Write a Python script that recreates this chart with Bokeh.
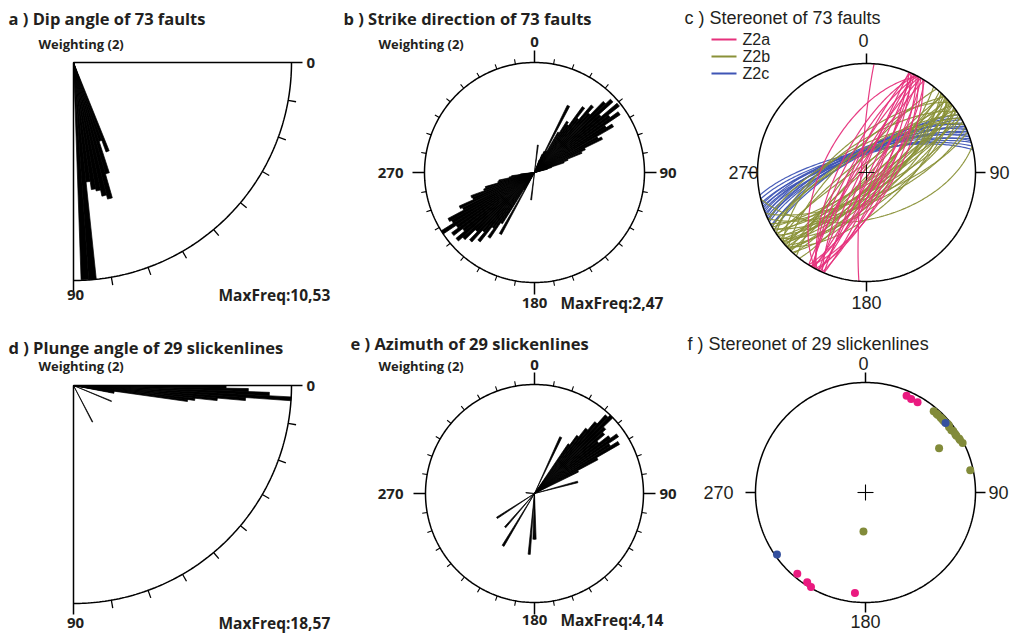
import numpy as np
from bokeh.plotting import figure
from bokeh.core.properties import value
from bokeh.embed import file_html
from bokeh.resources import INLINE

# ---------------- data ----------------
# a) dip angle of faults (2-degree bins: lower edges, frequency %)
dip_bins = [68, 70, 72, 74, 76, 78, 80, 82, 84, 86]
dip_freq = [4.6, 4.0, 5.6, 6.8, 6.6, 6.3, 6.2, 5.8, 10.53, 10.5]
dip_max = 10.53

# d) plunge angle of slickenlines (1-degree bins)
plunge_bins = [0, 1, 2, 3, 4, 5, 6, 7, 8, 9, 10, 22, 62]
plunge_freq = [13.0, 14.9, 16.7, 18.57, 14.7, 12.3, 10.4, 9.8, 3.5, 3.5, 3.5, 3.5, 3.5]
plunge_max = 18.57

# b) strike direction of faults (2-degree bins)
strike_bins = [6, 20, 22, 24, 26, 28, 30, 32, 34, 36, 38, 40, 42, 44, 46, 48, 50, 52,
               54, 56, 58, 60, 62, 64, 66, 68, 70, 72, 74,
               186, 208, 210, 212, 214, 216, 218, 220, 222, 224, 226, 228, 230, 232,
               234, 236, 238, 240, 242, 244, 246, 248, 250, 252, 254, 256, 258, 260, 262]
strike_freq = [0.62, 0.30, 0.44, 0.52, 1.68, 0.55, 1.05, 1.36, 1.30, 1.83, 1.55, 1.98, 1.80,
               2.22, 2.37, 1.95, 2.42, 2.10, 2.32, 1.90, 2.05, 1.62, 1.70, 1.25, 1.15, 0.80,
               0.70, 0.40, 0.30,
               0.62, 1.58, 0.45, 1.36, 1.78, 1.55, 1.98, 1.75, 2.10, 1.85, 2.17, 2.30, 2.05,
               2.30, 2.12, 2.47, 2.15, 2.20, 1.80, 1.85, 1.50, 1.52, 1.20, 1.15, 0.85, 0.82,
               0.58, 0.52, 0.32]
strike_max = 2.47

# e) azimuth of slickenlines (2-degree bins)
azimuth_bins = [24, 34, 36, 38, 40, 42, 44, 46, 48, 50, 52, 54, 56, 58, 60, 62,
                74, 178, 180, 184, 210, 220, 236, 274]
azimuth_freq = [2.36, 2.28, 2.73, 3.15, 3.56, 4.02, 4.14, 3.64, 3.48, 3.10, 3.56, 3.85,
                3.40, 3.73, 2.73, 1.86, 1.70, 1.74, 1.74, 2.32, 2.32, 1.70, 1.70, 0.33]
azimuth_max = 4.14

# c) fault planes (strike by right-hand rule, dip) per zone
z2a_strike = [24, 26, 28, 30, 25, 27, 29, 31, 23, 32, 204, 206, 208, 210, 203, 207, 209, 208, 184, 212]
z2a_dip = [78, 84, 72, 80, 88, 75, 86, 70, 82, 77, 80, 86, 74, 82, 88, 70, 78, 58, 86, 84]
z2b_strike = [38, 42, 45, 47, 50, 52, 55, 48, 44, 58, 60, 53, 56, 62, 46, 50, 54, 59, 49, 65,
              51, 47, 68, 43, 76, 220, 226, 232, 236, 225, 240, 230, 235, 244, 228, 238]
z2b_dip = [80, 82, 78, 85, 75, 80, 72, 70, 88, 78, 82, 66, 84, 76, 74, 86, 79, 70, 81, 68,
           77, 63, 72, 72, 55, 80, 72, 80, 68, 86, 76, 65, 84, 70, 88, 74]
z2c_strike = [238, 240, 241, 243, 244, 245, 246, 247, 248, 249, 250, 251, 252, 253, 254, 256, 258]
z2c_dip = [76, 74, 77, 75, 73, 76, 75, 72, 76, 74, 75, 73, 77, 74, 76, 75, 74]

# f) slickenlines (trend, plunge) and zone
lin_trend = [23, 26, 30, 220, 213, 210, 186,
             40, 42, 43, 45, 46, 48, 50, 51, 52, 54, 55, 57, 58, 60, 61, 63, 59, 78, 183, 47,
             49, 235]
lin_plunge = [5, 6, 6, 4, 3, 1, 9,
              4, 4, 4, 4, 4, 4, 3, 3, 4, 4, 3, 3, 3, 2, 2, 1, 23, 3, 61, 4,
              4, 2]
lin_zone = ["Z2a"] * 7 + ["Z2b"] * 20 + ["Z2c"] * 2

zones = ["Z2a", "Z2b", "Z2c"]
zone_line_colors = {"Z2a": "#e6317c", "Z2b": "#8a9138", "Z2c": "#3f55b5"}
zone_dot_colors = {"Z2a": "#ea1a80", "Z2b": "#828b3a", "Z2c": "#34509e"}

INK = "#231f20"
HUM = "Open Sans"
SANS = "Liberation Sans"

# ---------------- canvas ----------------
p = figure(width=1026, height=635, x_range=(0, 1026), y_range=(635, 0),
           output_backend="svg", toolbar_location=None, min_border=0)
p.axis.visible = False
p.grid.visible = False
p.outline_line_color = None
p.background_fill_color = "white"
p.border_fill_color = "white"


def quarter_map(ox, oy):
    def f(ang, r):
        a = np.radians(np.asarray(ang, dtype=float))
        return ox + r * np.cos(a), oy + r * np.sin(a)
    return f


def compass_map(cx, cy):
    def f(az, r):
        a = np.radians(np.asarray(az, dtype=float))
        return cx + r * np.sin(a), cy - r * np.cos(a)
    return f


def draw_rose(bins, freqs, fmax, R, mapper, width):
    xs, ys = [], []
    for b, fr in zip(bins, freqs):
        r = R * fr / fmax
        angs = np.linspace(b, b + width, 5)
        px, py = mapper(angs, r)
        x0, y0 = mapper([b], 0.0)
        xs.append(np.concatenate([x0, px]).tolist())
        ys.append(np.concatenate([y0, py]).tolist())
    p.patches(xs, ys, fill_color="black", line_color="black", line_width=0.7)


def txt(x, y, s, font=HUM, size="13px", bold=True, align="left"):
    p.text(x=[x], y=[y], text=[s], text_font=value(font), text_font_size=size,
           text_font_style="bold" if bold else "normal", text_align=align,
           text_baseline="middle", text_color=INK)


def quarter_frame(ox, oy, R):
    m = quarter_map(ox, oy)
    arc = np.linspace(0, 90, 120)
    ax, ay = m(arc, R)
    p.line(ax, ay, line_color="black", line_width=1.5)
    p.segment(x0=[ox, ox], y0=[oy, oy], x1=[ox + R + 11, ox], y1=[oy, oy + R + 11],
              line_color="black", line_width=1.5)
    tk = np.arange(10, 90, 10)
    x0, y0 = m(tk, R)
    x1, y1 = m(tk, R + 8)
    p.segment(x0=x0, y0=y0, x1=x1, y1=y1, line_color="black", line_width=1.3)


def compass_frame(cx, cy, R, minor=True):
    m = compass_map(cx, cy)
    a = np.linspace(0, 360, 361)
    ax, ay = m(a, R)
    p.line(ax, ay, line_color="black", line_width=1.5)
    card = np.array([0, 90, 180, 270])
    x0, y0 = m(card, R)
    x1, y1 = m(card, R + (12 if minor else 10))
    p.segment(x0=x0, y0=y0, x1=x1, y1=y1, line_color="black", line_width=1.5)
    if minor:
        mt = np.array([t for t in range(10, 360, 10) if t % 90 != 0])
        x0, y0 = m(mt, R)
        x1, y1 = m(mt, R + 5)
        p.segment(x0=x0, y0=y0, x1=x1, y1=y1, line_color="black", line_width=1.1)


def great_circle(strike, dip, n=120):
    lam = np.linspace(0, np.pi, n)
    s = np.radians(strike)
    d = np.radians(dip)
    dd = s + np.pi / 2
    sv = np.array([np.sin(s), np.cos(s), 0.0])
    dv = np.array([np.cos(d) * np.sin(dd), np.cos(d) * np.cos(dd), np.sin(d)])
    v = np.outer(np.cos(lam), sv) + np.outer(np.sin(lam), dv)
    e, nn, z = v.T
    k = 1.0 / np.sqrt(1.0 + z)
    return e * k, nn * k


def line_point(trend, plunge):
    t = np.radians(np.asarray(trend, dtype=float))
    pl = np.radians(np.asarray(plunge, dtype=float))
    r = np.sqrt(1.0 - np.sin(pl))
    return r * np.sin(t), r * np.cos(t)


TITLE = "16.5px"
SMALL = "13px"
MAXF = "15.5px"
DEG = "15px"

# ---------------- a) dip angle ----------------
AX, AY, AR = 73, 62, 218
draw_rose(dip_bins, dip_freq, dip_max, AR, quarter_map(AX, AY), 2)
quarter_frame(AX, AY, AR)
txt(8, 18, "a ) Dip angle of 73 faults", size=TITLE)
txt(38, 43, "Weighting (2)", size=SMALL)
txt(AX + AR + 15, AY, "0", size=DEG)
txt(AX + 2, 294, "90", size=DEG, align="center")
txt(218, 294, "MaxFreq:10,53", size=MAXF)

# ---------------- d) plunge angle ----------------
DX, DY, DR = 73, 385, 218
draw_rose(plunge_bins, plunge_freq, plunge_max, DR, quarter_map(DX, DY), 1)
quarter_frame(DX, DY, DR)
txt(8, 347, "d ) Plunge angle of 29 slickenlines", size=TITLE)
txt(38, 365, "Weighting (2)", size=SMALL)
txt(DX + DR + 15, DY, "0", size=DEG)
txt(DX + 2, 622, "90", size=DEG, align="center")
txt(218, 622, "MaxFreq:18,57", size=MAXF)

# ---------------- b) strike rose ----------------
BX, BY, BR = 534, 172, 110
draw_rose(strike_bins, strike_freq, strike_max, BR, compass_map(BX, BY), 2)
compass_frame(BX, BY, BR)
txt(343, 18, "b ) Strike direction of 73 faults", size=TITLE)
txt(378, 43, "Weighting (2)", size=SMALL)
txt(BX, 41, "0", size=DEG, align="center")
txt(403, BY, "270", size=DEG, align="right")
txt(659, BY, "90", size=DEG)
txt(BX, 302, "180", size=DEG, align="center")
txt(560, 302, "MaxFreq:2,47", size=MAXF)

# ---------------- e) azimuth rose ----------------
EX, EY, ER = 534, 493, 109
draw_rose(azimuth_bins, azimuth_freq, azimuth_max, ER, compass_map(EX, EY), 2)
compass_frame(EX, EY, ER)
txt(350, 343, "e ) Azimuth of 29 slickenlines", size=TITLE)
txt(378, 365, "Weighting (2)", size=SMALL)
txt(EX, 364, "0", size=DEG, align="center")
txt(403, EY, "270", size=DEG, align="right")
txt(659, EY, "90", size=DEG)
txt(EX, 619, "180", size=DEG, align="center")
txt(560, 619, "MaxFreq:4,14", size=MAXF)

# ---------------- c) stereonet of fault planes ----------------
CX, CY, CR = 866, 172, 109
plane_sets = {"Z2a": (z2a_strike, z2a_dip), "Z2b": (z2b_strike, z2b_dip), "Z2c": (z2c_strike, z2c_dip)}
for zn in ["Z2c", "Z2b", "Z2a"]:
    sts, dps = plane_sets[zn]
    xs, ys = [], []
    for st, dp in zip(sts, dps):
        gx, gy = great_circle(st, dp)
        xs.append((CX + CR * gx).tolist())
        ys.append((CY - CR * gy).tolist())
    p.multi_line(xs, ys, line_color=zone_line_colors[zn], line_width=1.2, line_alpha=0.95)
p.segment(x0=[CX - 8, CX], y0=[CY, CY - 8], x1=[CX + 8, CX], y1=[CY, CY + 8],
          line_color="black", line_width=0.9)
compass_frame(CX, CY, CR, minor=False)
txt(684, 17, "c ) Stereonet of 73 faults", font=SANS, size="18px", bold=False)
txt(CX - 3, 40, "0", font=SANS, size="18px", bold=False, align="center")
txt(758, CY, "270", font=SANS, size="18px", bold=False, align="right")
txt(989, CY, "90", font=SANS, size="18px", bold=False)
txt(CX, 302, "180", font=SANS, size="18px", bold=False, align="center")
for i, zn in enumerate(zones):
    ly = 39 + 17 * i
    p.segment(x0=[711], y0=[ly], x1=[736], y1=[ly], line_color=zone_line_colors[zn], line_width=2)
    txt(742, ly, zn, font=SANS, size="16px", bold=False)

# ---------------- f) stereonet of slickenlines ----------------
FX, FY, FR = 865, 492, 110
compass_frame(FX, FY, FR, minor=False)
p.segment(x0=[FX - 8, FX], y0=[FY, FY - 8], x1=[FX + 8, FX], y1=[FY, FY + 8],
          line_color="black", line_width=1.1)
for zn in ["Z2b", "Z2a", "Z2c"]:
    idx = [i for i, z in enumerate(lin_zone) if z == zn]
    lx, ly = line_point([lin_trend[i] for i in idx], [lin_plunge[i] for i in idx])
    p.scatter(FX + FR * lx, FY - FR * ly, size=8, marker="circle",
              fill_color=zone_dot_colors[zn], line_color=None)
txt(687, 343, "f ) Stereonet of 29 slickenlines", font=SANS, size="18px", bold=False)
txt(FX - 2, 363, "0", font=SANS, size="18px", bold=False, align="center")
txt(733, FY, "270", font=SANS, size="18px", bold=False, align="right")
txt(988, FY, "90", font=SANS, size="18px", bold=False)
txt(FX, 621, "180", font=SANS, size="18px", bold=False, align="center")

open("out.html", "w").write(file_html(p, INLINE))
